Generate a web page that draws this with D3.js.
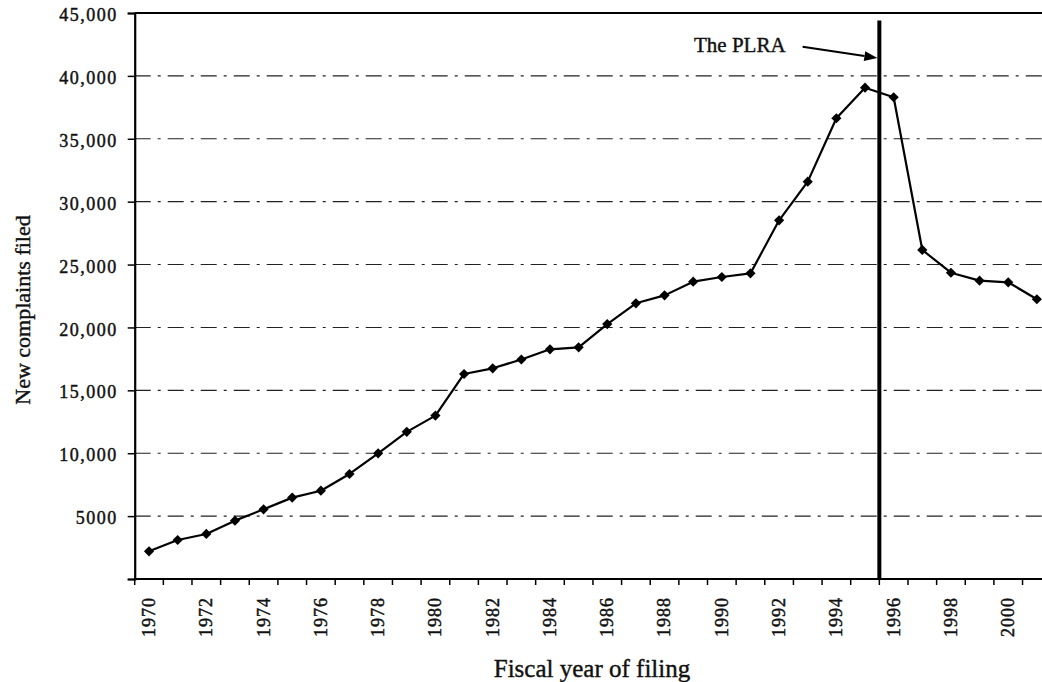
<!DOCTYPE html>
<html>
<head>
<meta charset="utf-8">
<script src="https://cdn.jsdelivr.net/npm/d3@7"></script>
<style>
  html, body { margin: 0; padding: 0; background: #fff; }
  svg { display: block; }
</style>
</head>
<body>
<svg id="chart" width="1042" height="682"></svg>
<script>
// ---- data ----
const years = [1970,1971,1972,1973,1974,1975,1976,1977,1978,1979,1980,1981,1982,1983,1984,1985,
               1986,1987,1988,1989,1990,1991,1992,1993,1994,1995,1996,1997,1998,1999,2000,2001];
const complaints = [2200,3100,3580,4640,5540,6470,7020,8350,9990,11700,12990,16300,16750,17450,18260,18420,
                    20270,21920,22550,23640,24010,24300,28520,31590,36630,39060,38300,26160,24350,23720,23590,22240];
const yTicks = [0,5000,10000,15000,20000,25000,30000,35000,40000,45000];
const xLabelYears = [1970,1972,1974,1976,1978,1980,1982,1984,1986,1988,1990,1992,1994,1996,1998,2000];
const yTitle = "New complaints filed";
const xTitle = "Fiscal year of filing";
const annText = "The PLRA";
const plraYear = 1996;        // line drawn at start of FY1996
const plraTopValue = 44400;   // top of the PLRA marker line
const arrowFrom = {year: 1993.32, value: 42320};
const arrowTo = {value: 41420};

(function () {
const W = 1042, H = 682;
const svg = d3.select("#chart");
const mLeft = 134.7, mBottom = 579, mTop = 13;
const x = d3.scaleBand().domain(years).range([mLeft, mLeft + 28.64 * years.length]).padding(0);
const bw = x.bandwidth();
const y = d3.scaleLinear().domain([0, 45000]).range([mBottom, mTop]);
const xc = yr => x(yr) + bw / 2;
const xf = yf => x(years[0]) + (yf - years[0]) * bw;

const serif = "'Liberation Serif', 'Times New Roman', serif";
const ink = "#111";

// gridlines
svg.append("g").selectAll("line")
  .data(yTicks.filter(v => v > 0 && v < 45000))
  .join("line")
  .attr("x1", mLeft).attr("x2", W)
  .attr("y1", d => y(d)).attr("y2", d => y(d))
  .attr("stroke", "#222").attr("stroke-width", 1.1)
  .attr("stroke-dasharray", "16,7,3,7");

// top frame line
svg.append("line")
  .attr("x1", mLeft).attr("x2", W).attr("y1", y(45000)).attr("y2", y(45000))
  .attr("stroke", "#000").attr("stroke-width", 1.8);

// y axis
const yAxis = d3.axisLeft(y).tickValues(yTicks).tickSize(7).tickPadding(10)
  .tickFormat(v => v === 0 ? "" : (v >= 10000 ? d3.format(",")(v) : String(v)));
const gy = svg.append("g").attr("transform", `translate(${mLeft},0)`).call(yAxis)
  .attr("font-family", serif).attr("font-size", 18);
gy.select(".domain").attr("stroke", "#000").attr("stroke-width", 2.2);
gy.selectAll(".tick line").attr("stroke", "#000").attr("stroke-width", 1.5);
gy.selectAll(".tick text")
  .attr("fill", ink).attr("stroke", ink).attr("stroke-width", 0.45)
  .attr("letter-spacing", 1.5).attr("dy", "0.42em");

// x axis (ticks at band boundaries)
const boundaries = years.map(yr => x(yr)).concat([x(years[years.length - 1]) + bw]);
svg.append("line")
  .attr("x1", mLeft - 1).attr("x2", W).attr("y1", mBottom).attr("y2", mBottom)
  .attr("stroke", "#000").attr("stroke-width", 2.2);
svg.append("g").selectAll("line").data(boundaries).join("line")
  .attr("x1", d => d).attr("x2", d => d)
  .attr("y1", mBottom).attr("y2", mBottom + 6)
  .attr("stroke", "#000").attr("stroke-width", 1.5);
svg.append("g").attr("font-family", serif).attr("font-size", 18)
  .selectAll("text").data(xLabelYears).join("text")
  .attr("transform", d => `translate(${xc(d)},${mBottom + 18}) rotate(-90)`)
  .attr("text-anchor", "end").attr("dy", "0.33em")
  .attr("fill", ink).attr("stroke", ink).attr("stroke-width", 0.45)
  .attr("letter-spacing", 1)
  .text(d => d);

// data line
const line = d3.line().x((d, i) => xc(years[i])).y(d => y(d));
svg.append("path").datum(complaints)
  .attr("d", line).attr("fill", "none").attr("stroke", "#000").attr("stroke-width", 2.2)
  .attr("stroke-linejoin", "round");
const sym = d3.symbol().type(d3.symbolSquare).size(52);
svg.append("g").selectAll("path").data(complaints).join("path")
  .attr("d", sym)
  .attr("transform", (d, i) => `translate(${xc(years[i])},${y(d)}) rotate(45)`)
  .attr("fill", "#000");

// PLRA line
svg.append("line")
  .attr("x1", x(plraYear)).attr("x2", x(plraYear))
  .attr("y1", y(plraTopValue)).attr("y2", mBottom)
  .attr("stroke", "#000").attr("stroke-width", 4);

// arrow
const ax1 = xf(arrowFrom.year), ay1 = y(arrowFrom.value);
const ax2 = x(plraYear) - 2, ay2 = y(arrowTo.value);
const ang = Math.atan2(ay2 - ay1, ax2 - ax1);
const hl = 13, hw = 5;
const bx = ax2 - hl * Math.cos(ang), by = ay2 - hl * Math.sin(ang);
svg.append("line")
  .attr("x1", ax1).attr("y1", ay1).attr("x2", bx).attr("y2", by)
  .attr("stroke", "#000").attr("stroke-width", 2);
svg.append("path")
  .attr("d", `M${ax2},${ay2} L${bx + hw * Math.sin(ang)},${by - hw * Math.cos(ang)} L${bx - hw * Math.sin(ang)},${by + hw * Math.cos(ang)} Z`)
  .attr("fill", "#000");

svg.append("text")
  .attr("x", ax1 - 17).attr("y", ay1 + 5)
  .attr("text-anchor", "end")
  .attr("font-family", serif).attr("font-size", 21)
  .attr("fill", ink).attr("stroke", ink).attr("stroke-width", 0.4)
  .text(annText);

// axis titles
svg.append("text")
  .attr("transform", `translate(30,${(y(0) + y(45000)) / 2 + 14}) rotate(-90)`)
  .attr("text-anchor", "middle")
  .attr("font-family", serif).attr("font-size", 22)
  .attr("fill", ink).attr("stroke", ink).attr("stroke-width", 0.4)
  .text(yTitle);
svg.append("text")
  .attr("x", 592).attr("y", 677)
  .attr("text-anchor", "middle")
  .attr("font-family", serif).attr("font-size", 25)
  .attr("fill", ink).attr("stroke", ink).attr("stroke-width", 0.4)
  .text(xTitle);
})();
</script>
</body>
</html>
